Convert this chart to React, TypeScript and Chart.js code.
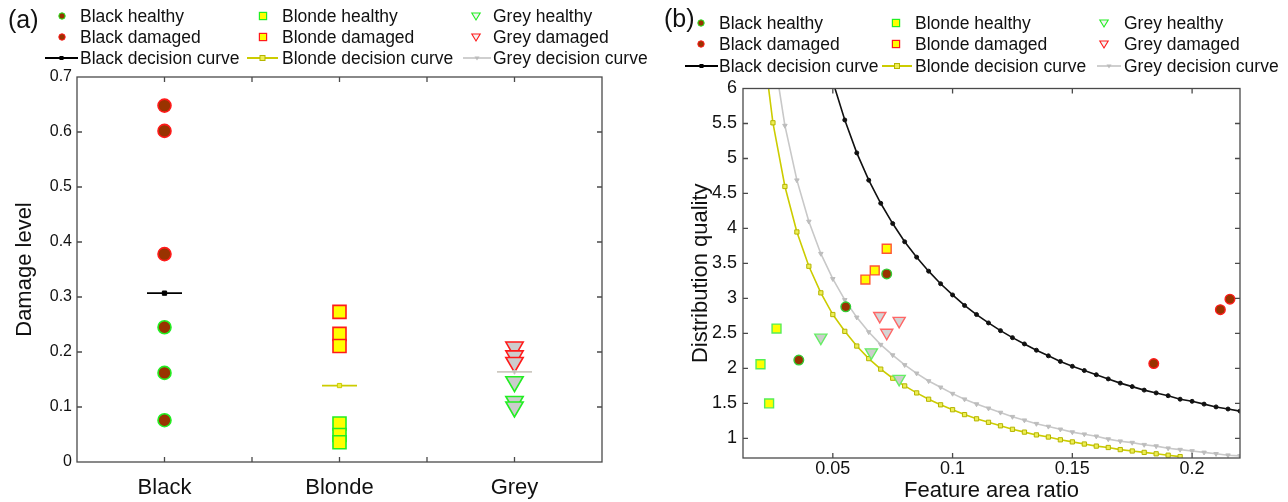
import React, { useEffect, useRef } from 'react';
import { Chart, registerables } from 'chart.js';

Chart.register(...registerables);

const FONT = 'Arial, "Liberation Sans", Helvetica, sans-serif';

// ---------------- Panel (a): damage level ----------------
const categories = ['Black', 'Blonde', 'Grey'];
const blackHealthyLevel = [0.245, 0.162, 0.076];
const blackDamagedLevel = [0.648, 0.602, 0.378];
const blondeHealthyLevel = [0.07, 0.049, 0.036];
const blondeDamagedLevel = [0.273, 0.233, 0.211];
const greyHealthyLevel = [0.146, 0.11, 0.1];
const greyDamagedLevel = [0.209, 0.193, 0.181];
const decisionLevel = [0.307, 0.139, 0.164];
const levelTicks = [0, 0.1, 0.2, 0.3, 0.4, 0.5, 0.6, 0.7];
const categoryTicks = [0.5, 1, 1.5, 2, 2.5, 3, 3.5];

// ---------------- Panel (b): feature area ratio vs distribution quality ----------------
const blackHealthyRatio = [0.0358, 0.0554, 0.0725];
const blackHealthyQuality = [2.12, 2.88, 3.35];
const blackDamagedRatio = [0.184, 0.2118, 0.2158];
const blackDamagedQuality = [2.07, 2.84, 2.99];
const blondeHealthyRatio = [0.0198, 0.0265, 0.0234];
const blondeHealthyQuality = [2.06, 2.57, 1.5];
const blondeDamagedRatio = [0.0636, 0.0675, 0.0725];
const blondeDamagedQuality = [3.27, 3.4, 3.71];
const greyHealthyRatio = [0.045, 0.0661, 0.0777];
const greyHealthyQuality = [2.44, 2.23, 1.85];
const greyDamagedRatio = [0.0696, 0.0777, 0.0725];
const greyDamagedQuality = [2.75, 2.68, 2.51];

const ratioTicks = [0.05, 0.1, 0.15, 0.2];
const qualityTicks = [1, 1.5, 2, 2.5, 3, 3.5, 4, 4.5, 5, 5.5, 6];

const curveRatio = [
  0.02, 0.025, 0.03, 0.035, 0.04, 0.045, 0.05, 0.055, 0.06, 0.065, 0.07,
  0.075, 0.08, 0.085, 0.09, 0.095, 0.1, 0.105, 0.11, 0.115, 0.12, 0.125,
  0.13, 0.135, 0.14, 0.145, 0.15, 0.155, 0.16, 0.165, 0.17, 0.175, 0.18,
  0.185, 0.19, 0.195, 0.2, 0.205, 0.21, 0.215, 0.22,
];
const blackCurve = [
  null, null, null, null, null, null, 6.1, 5.55, 5.08, 4.69, 4.36,
  4.07, 3.81, 3.59, 3.39, 3.21, 3.05, 2.9, 2.77, 2.65, 2.54, 2.44,
  2.35, 2.26, 2.18, 2.1, 2.03, 1.97, 1.91, 1.85, 1.79, 1.74, 1.69,
  1.65, 1.61, 1.56, 1.53, 1.49, 1.45, 1.42, 1.39,
];
const blondeCurve = [
  6.87, 5.51, 4.6, 3.95, 3.46, 3.08, 2.77, 2.53, 2.32, 2.14, 1.99,
  1.86, 1.75, 1.65, 1.56, 1.48, 1.41, 1.34, 1.28, 1.23, 1.18, 1.13,
  1.09, 1.05, 1.02, 0.98, 0.95, 0.92, 0.89, 0.87, 0.84, 0.82, 0.8,
  0.78, 0.76, 0.74, null, null, null, null, null,
];
const greyCurve = [
  null, 6.56, 5.47, 4.69, 4.1, 3.64, 3.28, 2.98, 2.73, 2.52, 2.34,
  2.19, 2.05, 1.93, 1.82, 1.73, 1.64, 1.56, 1.49, 1.43, 1.37, 1.31,
  1.26, 1.21, 1.17, 1.13, 1.09, 1.06, 1.03, 0.99, 0.96, 0.94, 0.91,
  0.89, 0.86, 0.84, 0.82, 0.8, 0.78, 0.76, 0.75,
];

const legendLabels = [
  ['Black healthy', 'Blonde healthy', 'Grey healthy'],
  ['Black damaged', 'Blonde damaged', 'Grey damaged'],
  ['Black decision curve', 'Blonde decision curve', 'Grey decision curve'],
];

// ---------------- colours ----------------
const BROWN = '#993300';
const GREEN = '#22ee22';
const RED = '#ff1a1a';
const YELLOW = '#ffff00';
const GREYFILL = '#cccccc';
const OLIVE = '#cccc00';
const LIGHTGREY = '#c8c8c8';

const boxPlugin = {
  id: 'matlabBox',
  afterDraw(chart: any) {
    const { ctx, chartArea } = chart;
    const { left, right, top, bottom } = chartArea;
    const xs = chart.scales.x;
    const ys = chart.scales.y;
    const len = 5;
    ctx.save();
    ctx.strokeStyle = '#4a4a4a';
    ctx.lineWidth = 1.3;
    ctx.beginPath();
    for (const t of xs.ticks) {
      const px = xs.getPixelForValue(t.value);
      if (px <= left + 1 || px >= right - 1) continue;
      ctx.moveTo(px, bottom);
      ctx.lineTo(px, bottom - len);
      ctx.moveTo(px, top);
      ctx.lineTo(px, top + len);
    }
    for (const t of ys.ticks) {
      const py = ys.getPixelForValue(t.value);
      if (py <= top + 1 || py >= bottom - 1) continue;
      ctx.moveTo(left, py);
      ctx.lineTo(left + len, py);
      ctx.moveTo(right, py);
      ctx.lineTo(right - len, py);
    }
    ctx.stroke();
    ctx.strokeRect(left, top, right - left, bottom - top);
    ctx.restore();
  },
};

const fixedTicks = (values: number[]) => (s: any) => {
  s.ticks = values.map((v) => ({ value: v }));
};

function PanelA() {
  const ref = useRef<HTMLCanvasElement>(null);
  useEffect(() => {
    const pts = (vals: number[], cat: number) => vals.map((v) => ({ x: cat + 1, y: v }));
    const dec = (cat: number) => [
      { x: cat + 1 - 0.1, y: decisionLevel[cat] },
      { x: cat + 1, y: decisionLevel[cat] },
      { x: cat + 1 + 0.1, y: decisionLevel[cat] },
    ];
    const marker = (data: any[], style: string, r: number, fill: string, stroke: string, rot = 0) => ({
      data,
      showLine: false,
      pointStyle: style,
      pointRadius: r,
      pointHoverRadius: r,
      pointRotation: rot,
      pointBackgroundColor: fill,
      pointBorderColor: stroke,
      pointBorderWidth: 1.6,
    });
    const line = (data: any[], color: string, style: string, r: number, fill: string, rot = 0) => ({
      data,
      showLine: true,
      borderColor: color,
      borderWidth: 1.8,
      pointStyle: style,
      pointRadius: [0, r, 0],
      pointRotation: rot,
      pointBackgroundColor: fill,
      pointBorderColor: color,
      pointBorderWidth: 1,
    });
    const chart = new Chart(ref.current as HTMLCanvasElement, {
      type: 'scatter',
      data: {
        datasets: [
          line(dec(0), '#000000', 'rect', 3, '#000000'),
          line(dec(1), OLIVE, 'rect', 3, '#eeee44'),
          line(dec(2), '#cdc9c0', 'triangle', 2.5, '#bbbbbb', 180),
          marker(pts(blackHealthyLevel, 0), 'circle', 6.5, BROWN, GREEN),
          marker(pts(blackDamagedLevel, 0), 'circle', 6.5, BROWN, RED),
          marker(pts(blondeHealthyLevel, 1), 'rect', 9.2, YELLOW, GREEN),
          marker(pts(blondeDamagedLevel, 1), 'rect', 9.2, YELLOW, RED),
          marker(pts(greyHealthyLevel, 2), 'triangle', 10, GREYFILL, GREEN, 180),
          marker(pts(greyDamagedLevel, 2), 'triangle', 10, GREYFILL, RED, 180),
        ] as any,
      },
      options: {
        animation: false,
        responsive: false,
        layout: { padding: { top: 77, left: 0, right: 48, bottom: 0 } },
        plugins: { legend: { display: false }, tooltip: { enabled: false } },
        scales: {
          x: {
            type: 'linear',
            min: categoryTicks[0],
            max: categoryTicks[categoryTicks.length - 1],
            grid: { display: false, drawTicks: false },
            border: { display: false },
            afterBuildTicks: fixedTicks(categoryTicks),
            ticks: {
              autoSkip: false,
              maxRotation: 0,
              padding: 13,
              color: '#111',
              font: { family: FONT, size: 22 },
              callback: (v: any) => {
                const i = Math.round(v);
                return Math.abs(v - i) < 1e-6 && i >= 1 && i <= categories.length ? categories[i - 1] : '';
              },
            },
            afterFit: (s: any) => {
              s.height = 40;
            },
          },
          y: {
            min: levelTicks[0],
            max: levelTicks[levelTicks.length - 1],
            grid: { display: false, drawTicks: false },
            border: { display: false },
            afterBuildTicks: fixedTicks(levelTicks),
            ticks: {
              padding: 5,
              color: '#111',
              font: { family: FONT, size: 16 },
              callback: (v: any) => String(Math.round(v * 10) / 10),
            },
            title: {
              display: true,
              text: 'Damage level',
              color: '#111',
              font: { family: FONT, size: 22 },
              padding: { top: 12, bottom: 0 },
            },
            afterFit: (s: any) => {
              s.width = 77;
            },
          },
        },
      } as any,
      plugins: [boxPlugin],
    });
    return () => chart.destroy();
  }, []);
  return (
    <canvas
      ref={ref}
      width={650}
      height={502}
      style={{ position: 'absolute', left: 0, top: 0, width: 650, height: 502 }}
    />
  );
}

function PanelB() {
  const ref = useRef<HTMLCanvasElement>(null);
  useEffect(() => {
    const pts = (xs: number[], ys: number[]) => xs.map((x, i) => ({ x, y: ys[i] }));
    const curve = (ys: (number | null)[]) => curveRatio.map((x, i) => ({ x, y: ys[i] }));
    const marker = (data: any[], style: string, r: number, fill: string, stroke: string, rot = 0) => ({
      data,
      showLine: false,
      pointStyle: style,
      pointRadius: r,
      pointHoverRadius: r,
      pointRotation: rot,
      pointBackgroundColor: fill,
      pointBorderColor: stroke,
      pointBorderWidth: 1.4,
    });
    const line = (data: any[], color: string, style: string, r: number, fill: string, pb: string, rot = 0) => ({
      data,
      showLine: true,
      spanGaps: false,
      borderColor: color,
      borderWidth: 1.6,
      pointStyle: style,
      pointRadius: r,
      pointHoverRadius: r,
      pointRotation: rot,
      pointBackgroundColor: fill,
      pointBorderColor: pb,
      pointBorderWidth: 1,
    });
    const chart = new Chart(ref.current as HTMLCanvasElement, {
      type: 'scatter',
      data: {
        datasets: [
          marker(pts(blackHealthyRatio, blackHealthyQuality), 'circle', 4.8, BROWN, '#33cc33'),
          marker(pts(blackDamagedRatio, blackDamagedQuality), 'circle', 4.8, BROWN, RED),
          marker(pts(blondeHealthyRatio, blondeHealthyQuality), 'rect', 6.3, YELLOW, '#55ee55'),
          marker(pts(blondeDamagedRatio, blondeDamagedQuality), 'rect', 6.3, YELLOW, '#ff5533'),
          marker(pts(greyHealthyRatio, greyHealthyQuality), 'triangle', 7, GREYFILL, '#66ee66', 180),
          marker(pts(greyDamagedRatio, greyDamagedQuality), 'triangle', 7, '#d4d4d4', '#ff6666', 180),
          line(curve(blackCurve), '#111111', 'circle', 2, '#111111', '#111111'),
          line(curve(blondeCurve), OLIVE, 'rect', 3, '#eeee55', '#b5b500'),
          line(curve(greyCurve), LIGHTGREY, 'triangle', 2.6, '#bdbdbd', '#bdbdbd', 180),
        ] as any,
      },
      options: {
        animation: false,
        responsive: false,
        layout: { padding: { top: 88.5, left: 0, right: 48, bottom: 0 } },
        plugins: { legend: { display: false }, tooltip: { enabled: false } },
        scales: {
          x: {
            type: 'linear',
            min: 0.0125,
            max: 0.22,
            grid: { display: false, drawTicks: false },
            border: { display: false },
            afterBuildTicks: fixedTicks(ratioTicks),
            ticks: {
              autoSkip: false,
              maxRotation: 0,
              padding: 0,
              color: '#111',
              font: { family: FONT, size: 18 },
              callback: (v: any) => String(Math.round(v * 1000) / 1000),
            },
            title: {
              display: true,
              text: 'Feature area ratio',
              color: '#111',
              font: { family: FONT, size: 22 },
              padding: { top: 0, bottom: -2 },
            },
            afterFit: (s: any) => {
              s.height = 44;
            },
          },
          y: {
            min: 0.72,
            max: 6,
            grid: { display: false, drawTicks: false },
            border: { display: false },
            afterBuildTicks: fixedTicks(qualityTicks),
            ticks: {
              padding: 6,
              color: '#111',
              font: { family: FONT, size: 18 },
              callback: (v: any) => String(Math.round(v * 10) / 10),
            },
            title: {
              display: true,
              text: 'Distribution quality',
              color: '#111',
              font: { family: FONT, size: 22 },
              padding: { top: 38, bottom: 0 },
            },
            afterFit: (s: any) => {
              s.width = 93;
            },
          },
        },
      } as any,
      plugins: [boxPlugin],
    });
    return () => chart.destroy();
  }, []);
  return (
    <canvas
      ref={ref}
      width={638}
      height={502}
      style={{ position: 'absolute', left: 650, top: 0, width: 638, height: 502 }}
    />
  );
}

type LegendGeom = {
  rows: number[];
  markerX: number[];
  textX: number[];
  seg: number[][];
};

const geomA: LegendGeom = {
  rows: [16, 37, 58],
  markerX: [62, 263, 476],
  textX: [80, 282, 493],
  seg: [
    [45, 78],
    [247, 278],
    [463, 491],
  ],
};
const geomB: LegendGeom = {
  rows: [23, 44, 66],
  markerX: [701, 896, 1104],
  textX: [719, 915, 1124],
  seg: [
    [685, 718],
    [882, 912],
    [1097, 1121],
  ],
};

function LegendMarks({ g }: { g: LegendGeom }) {
  const out: any[] = [];
  for (let c = 0; c < 3; c++) {
    for (let r = 0; r < 2; r++) {
      const cx = g.markerX[c];
      const cy = g.rows[r];
      const stroke = r === 0 ? GREEN : RED;
      const key = `m${c}${r}`;
      if (c === 0) {
        out.push(<circle key={key} cx={cx} cy={cy} r={3.2} fill={BROWN} stroke={stroke} strokeWidth={1} />);
      } else if (c === 1) {
        out.push(
          <rect key={key} x={cx - 3.6} y={cy - 3.6} width={7.2} height={7.2} fill={YELLOW} stroke={stroke} strokeWidth={1.2} />
        );
      } else {
        out.push(
          <polygon
            key={key}
            points={`${cx - 4.2},${cy - 3} ${cx + 4.2},${cy - 3} ${cx},${cy + 4}`}
            fill="#f4f4f4"
            stroke={stroke}
            strokeWidth={1.1}
          />
        );
      }
    }
    const [x1, x2] = g.seg[c];
    const cy = g.rows[2];
    const mx = (x1 + x2) / 2;
    const color = c === 0 ? '#000' : c === 1 ? OLIVE : '#cfcfcf';
    out.push(<line key={`l${c}`} x1={x1} x2={x2} y1={cy} y2={cy} stroke={color} strokeWidth={2} />);
    if (c === 0) out.push(<rect key={`p${c}`} x={mx - 2} y={cy - 2} width={4} height={4} fill="#000" />);
    if (c === 1)
      out.push(<rect key={`p${c}`} x={mx - 2.5} y={cy - 2.5} width={5} height={5} fill="#eeee55" stroke="#b5b500" strokeWidth={1} />);
    if (c === 2)
      out.push(<polygon key={`p${c}`} points={`${mx - 2.5},${cy - 1.5} ${mx + 2.5},${cy - 1.5} ${mx},${cy + 2.5}`} fill="#bbb" />);
  }
  return <>{out}</>;
}

function LegendTexts({ g }: { g: LegendGeom }) {
  const out: any[] = [];
  for (let r = 0; r < 3; r++) {
    for (let c = 0; c < 3; c++) {
      out.push(
        <div
          key={`t${r}${c}`}
          style={{
            position: 'absolute',
            left: g.textX[c],
            top: g.rows[r] - 10,
            height: 20,
            lineHeight: '20px',
            fontSize: 17.5,
            fontFamily: FONT,
            color: '#111',
            whiteSpace: 'nowrap',
          }}
        >
          {legendLabels[r][c]}
        </div>
      );
    }
  }
  return <>{out}</>;
}

export default function App() {
  return (
    <div style={{ position: 'absolute', left: 0, top: 0, width: 1288, height: 502, background: '#fff', overflow: 'hidden' }}>
      <PanelA />
      <PanelB />
      <svg width={1288} height={502} style={{ position: 'absolute', left: 0, top: 0, pointerEvents: 'none' }}>
        <LegendMarks g={geomA} />
        <LegendMarks g={geomB} />
      </svg>
      <LegendTexts g={geomA} />
      <LegendTexts g={geomB} />
      <div style={{ position: 'absolute', left: 8, top: 4, fontSize: 25, lineHeight: '30px', fontFamily: FONT, color: '#111' }}>(a)</div>
      <div style={{ position: 'absolute', left: 664, top: 3, fontSize: 25, lineHeight: '30px', fontFamily: FONT, color: '#111' }}>(b)</div>
    </div>
  );
}
